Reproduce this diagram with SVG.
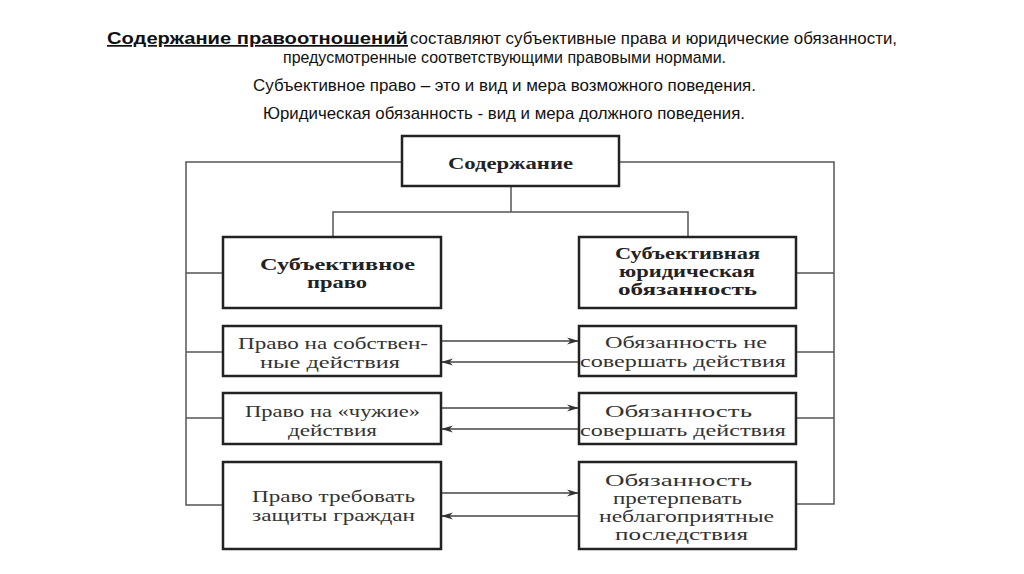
<svg xmlns="http://www.w3.org/2000/svg" width="1024" height="574" viewBox="0 0 1024 574">
<defs>
<marker id="ah" viewBox="0 0 12 8" refX="12" refY="4" markerWidth="12" markerHeight="8" markerUnits="userSpaceOnUse" orient="auto">
<path d="M0,0.5 L12,4 L0,7.5 L3.5,4 Z" fill="#333"/>
</marker>
</defs>
<style>
.hd{font-family:"Liberation Sans",Arial,sans-serif;font-size:17px;fill:#111}
.box{fill:#fff;stroke:#222;stroke-width:2.5}
.ln{fill:none;stroke:#555;stroke-width:1.5}
.arr{fill:none;stroke:#444;stroke-width:1.5;marker-end:url(#ah)}
.t{font-family:"Liberation Serif","Times New Roman",serif;font-size:16px;fill:#333}
.b{font-family:"Liberation Serif","Times New Roman",serif;font-size:16px;font-weight:bold;fill:#222}
</style>
<rect width="1024" height="574" fill="#fff"/>
<g id="header">
<text class="hd" x="107" y="44" font-weight="bold" font-size="18" text-decoration="underline" textLength="301" lengthAdjust="spacingAndGlyphs">Содержание правоотношений </text>
<text class="hd" x="410" y="44" textLength="487" lengthAdjust="spacingAndGlyphs">составляют субъективные права и юридические обязанности,</text>
<text class="hd" x="283" y="63" textLength="443" lengthAdjust="spacingAndGlyphs">предусмотренные соответствующими правовыми нормами.</text>
<text class="hd" x="253" y="91" textLength="503" lengthAdjust="spacingAndGlyphs">Субъективное право – это  и вид и мера возможного поведения.</text>
<text class="hd" x="263" y="119" textLength="482" lengthAdjust="spacingAndGlyphs">Юридическая обязанность - вид и мера должного поведения.</text>
</g>
<g id="connectors">
<path class="ln" d="M402,162 H186 V505 H223 M186,273 H223 M186,352 H223 M186,418 H223"/>
<path class="ln" d="M619,162 H834 V504 H796 M834,273 H796 M834,352 H796 M834,418 H796"/>
<path class="ln" d="M511,186 V212 M333,237 V212 H688 V237"/>
<path class="arr" d="M441,341 H579"/>
<path class="arr" d="M579,362 H441"/>
<path class="arr" d="M441,408 H579"/>
<path class="arr" d="M579,429 H441"/>
<path class="arr" d="M441,493 H579"/>
<path class="arr" d="M579,516 H441"/>
</g>
<g id="n-content">
<rect class="box" x="402" y="136" width="217" height="50"/>
<text class="b" x="448" y="169" font-size="20" textLength="125" lengthAdjust="spacingAndGlyphs">Содержание</text>
</g>
<g id="n-right">
<rect class="box" x="223" y="237" width="218" height="71"/>
<text class="b"><tspan x="260" y="270" textLength="155" lengthAdjust="spacingAndGlyphs">Субъективное</tspan><tspan x="307" y="288" textLength="60" lengthAdjust="spacingAndGlyphs">право</tspan></text>
</g>
<g id="n-duty">
<rect class="box" x="579" y="237" width="217" height="71"/>
<text class="b"><tspan x="615" y="259" textLength="145" lengthAdjust="spacingAndGlyphs">Субъективная</tspan><tspan x="619" y="277" textLength="136" lengthAdjust="spacingAndGlyphs">юридическая</tspan><tspan x="618" y="295" textLength="139" lengthAdjust="spacingAndGlyphs">обязанность</tspan></text>
</g>
<g id="n-l1">
<rect class="box" x="223" y="326" width="218" height="50"/>
<text class="t"><tspan x="238" y="349" textLength="190" lengthAdjust="spacingAndGlyphs">Право на собствен-</tspan><tspan x="260" y="368" textLength="140" lengthAdjust="spacingAndGlyphs">ные действия</tspan></text>
</g>
<g id="n-l2">
<rect class="box" x="223" y="393" width="218" height="51"/>
<text class="t"><tspan x="245" y="417" textLength="175" lengthAdjust="spacingAndGlyphs">Право на «чужие»</tspan><tspan x="288" y="436" textLength="89" lengthAdjust="spacingAndGlyphs">действия</tspan></text>
</g>
<g id="n-l3">
<rect class="box" x="223" y="462" width="218" height="87"/>
<text class="t"><tspan x="252" y="502" textLength="163" lengthAdjust="spacingAndGlyphs">Право требовать</tspan><tspan x="252" y="521" textLength="163" lengthAdjust="spacingAndGlyphs">защиты граждан</tspan></text>
</g>
<g id="n-r1">
<rect class="box" x="579" y="326" width="217" height="50"/>
<text class="t"><tspan x="605" y="348" textLength="162" lengthAdjust="spacingAndGlyphs">Обязанность не</tspan><tspan x="580" y="367" textLength="206" lengthAdjust="spacingAndGlyphs">совершать действия</tspan></text>
</g>
<g id="n-r2">
<rect class="box" x="579" y="393" width="217" height="51"/>
<text class="t"><tspan x="605" y="417" textLength="147" lengthAdjust="spacingAndGlyphs">Обязанность</tspan><tspan x="580" y="436" textLength="206" lengthAdjust="spacingAndGlyphs">совершать действия</tspan></text>
</g>
<g id="n-r3">
<rect class="box" x="579" y="462" width="217" height="87"/>
<text class="t"><tspan x="605" y="486" textLength="147" lengthAdjust="spacingAndGlyphs">Обязанность</tspan><tspan x="613" y="504" textLength="129" lengthAdjust="spacingAndGlyphs">претерпевать</tspan><tspan x="599" y="522" textLength="175" lengthAdjust="spacingAndGlyphs">неблагоприятные</tspan><tspan x="615" y="540" textLength="133" lengthAdjust="spacingAndGlyphs">последствия</tspan></text>
</g>
</svg>
